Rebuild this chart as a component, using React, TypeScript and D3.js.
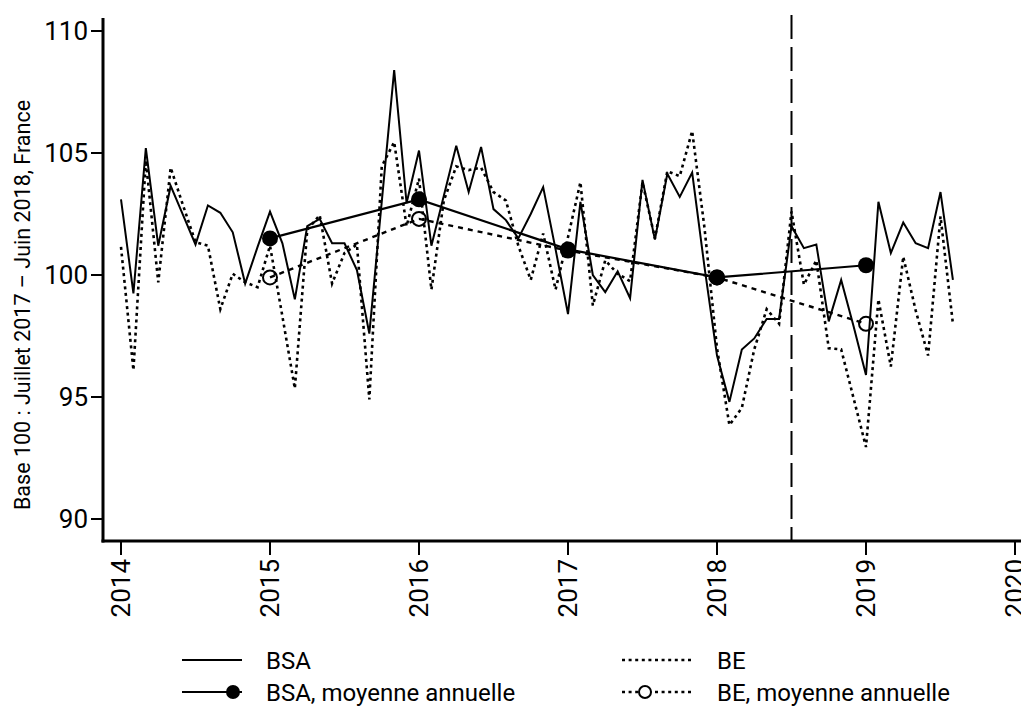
import React from "react";
import * as d3 from "d3";

const startYear = 2014;
const bsa: number[] = [
  103.1, 99.25, 105.2, 101.2, 103.65, 102.45, 101.25, 102.85, 102.55, 101.75, 99.65, 101.15,
  102.6, 101.3, 99.0, 102.0, 102.3, 101.3, 101.3, 100.2, 97.6, 103.0, 108.4, 102.95,
  105.1, 101.2, 103.25, 105.3, 103.4, 105.25, 102.7, 102.25, 101.5, 102.5, 103.6, 101.05,
  98.4, 103.0, 100.0, 99.3, 100.15, 99.05, 103.9, 101.45, 104.15, 103.2, 104.2, 100.3,
  96.7, 94.8, 96.95, 97.4, 98.2, 98.2, 102.0, 101.1, 101.25, 98.1, 99.8, 97.9,
  95.9, 103.0, 100.9, 102.15, 101.3, 101.1, 103.4, 99.8,
];
const be: number[] = [
  101.15, 96.1, 104.7, 99.7, 104.4, 102.85, 101.35, 101.2, 98.6, 100.05, 99.7, 99.5,
  101.2, 98.3, 95.35, 101.85, 102.45, 99.65, 100.9, 101.25, 94.9, 104.45, 105.45, 102.0,
  103.95, 99.4, 103.05, 104.45, 104.3, 104.4, 103.4, 103.05, 101.2, 99.8, 101.7, 99.4,
  101.55, 103.8, 98.75, 100.6, 100.05, 99.75, 103.8, 101.5, 104.25, 104.05, 105.9, 101.9,
  97.0, 93.85, 94.55, 96.95, 98.6, 98.0, 102.6, 99.6, 100.6, 97.0, 96.95, 94.95,
  92.95, 99.0, 96.25, 100.75, 98.55, 96.7, 102.4, 98.0,
];
const avgYears: number[] = [2015, 2016, 2017, 2018, 2019];
const bsaAvg: number[] = [101.5, 103.1, 101.05, 99.9, 100.4];
const beAvg: number[] = [99.9, 102.3, 101.0, 99.9, 98.0];
const yTicks: number[] = [90, 95, 100, 105, 110];
const xTicks: number[] = [2014, 2015, 2016, 2017, 2018, 2019, 2020];
const breakYear = 2018.5;
const yTitle = "Base 100 : Juillet 2017 – Juin 2018, France";
const legendLabels = ["BSA", "BE", "BSA, moyenne annuelle", "BE, moyenne annuelle"];

const W = 1021;
const H = 709;
const FONT = "Roboto, 'DejaVu Sans', sans-serif";

export default function App() {
  const x = d3.scaleLinear().domain([2014, 2020]).range([121, 1015]);
  const y = d3.scaleLinear().domain([90, 110]).range([519, 31]);
  const axisLeftX = 103;
  const axisBottomY = 541;
  const axisTopY = 18;

  const monthly = (vals: number[]) =>
    vals.map((v, i) => ({ t: startYear + i / 12, v }));
  const line = d3
    .line<{ t: number; v: number }>()
    .x((d) => x(d.t))
    .y((d) => y(d.v));
  const avgPts = (vals: number[]) => vals.map((v, i) => ({ t: avgYears[i], v }));

  return (
    <svg
      width={W}
      height={H}
      style={{ position: "absolute", left: 0, top: 0, background: "#fff", overflow: "hidden" }}
      fontFamily={FONT}
    >
      {/* series */}
      <path d={line(monthly(be)) || ""} fill="none" stroke="#000" strokeWidth={2.6} strokeDasharray="3 3.6" />
      <path d={line(monthly(bsa)) || ""} fill="none" stroke="#000" strokeWidth={2} strokeLinejoin="miter" />
      <path d={line(avgPts(beAvg)) || ""} fill="none" stroke="#000" strokeWidth={2.4} strokeDasharray="5 5" />
      {avgPts(beAvg).map((d, i) => (
        <circle key={"bo" + i} cx={x(d.t)} cy={y(d.v)} r={7} fill="none" stroke="#000" strokeWidth={2} />
      ))}
      <path d={line(avgPts(bsaAvg)) || ""} fill="none" stroke="#000" strokeWidth={2.2} />
      {avgPts(bsaAvg).map((d, i) => (
        <circle key={"bf" + i} cx={x(d.t)} cy={y(d.v)} r={8} fill="#000" />
      ))}

      {/* vertical dashed line */}
      <line
        x1={x(breakYear)}
        x2={x(breakYear)}
        y1={15}
        y2={axisBottomY}
        stroke="#000"
        strokeWidth={2}
        strokeDasharray="24 8"
      />

      {/* axes */}
      <line x1={axisLeftX} x2={axisLeftX} y1={axisTopY} y2={axisBottomY + 1.5} stroke="#000" strokeWidth={3} />
      <line x1={axisLeftX - 1.5} x2={W} y1={axisBottomY} y2={axisBottomY} stroke="#000" strokeWidth={3} />
      {yTicks.map((t) => (
        <g key={"yt" + t}>
          <line x1={axisLeftX - 12} x2={axisLeftX} y1={y(t)} y2={y(t)} stroke="#000" strokeWidth={2} />
          <text x={axisLeftX - 15} y={y(t)} dy="0.36em" textAnchor="end" fontSize={26} fill="#000">
            {t}
          </text>
        </g>
      ))}
      {xTicks.map((t) => (
        <g key={"xt" + t}>
          <line x1={x(t)} x2={x(t)} y1={axisBottomY} y2={axisBottomY + 14} stroke="#000" strokeWidth={2} />
          <text
            transform={`translate(${x(t)},${axisBottomY + 18}) rotate(-90)`}
            dy="0.36em"
            textAnchor="end"
            fontSize={26}
            fill="#000"
          >
            {t}
          </text>
        </g>
      ))}
      <text
        transform={`translate(22,305) rotate(-90)`}
        dy="0.36em"
        textAnchor="middle"
        fontSize={21.5}
        fill="#000"
      >
        {yTitle}
      </text>

      {/* legend */}
      <g fontSize={24} fill="#000">
        <line x1={182} x2={242} y1={660} y2={660} stroke="#000" strokeWidth={2} />
        <text x={266} y={660} dy="0.36em">{legendLabels[0]}</text>
        <line x1={622} x2={693} y1={660} y2={660} stroke="#000" strokeWidth={2.6} strokeDasharray="3 3.6" />
        <text x={717} y={660} dy="0.36em">{legendLabels[1]}</text>

        <line x1={182} x2={242} y1={692} y2={692} stroke="#000" strokeWidth={2.2} />
        <circle cx={233} cy={692} r={7} fill="#000" />
        <text x={266} y={692} dy="0.36em">{legendLabels[2]}</text>
        <line x1={622} x2={693} y1={692} y2={692} stroke="#000" strokeWidth={2.6} strokeDasharray="3 3.6" />
        <circle cx={645} cy={692} r={6} fill="#fff" stroke="#000" strokeWidth={2} />
        <text x={717} y={692} dy="0.36em">{legendLabels[3]}</text>
      </g>
    </svg>
  );
}
